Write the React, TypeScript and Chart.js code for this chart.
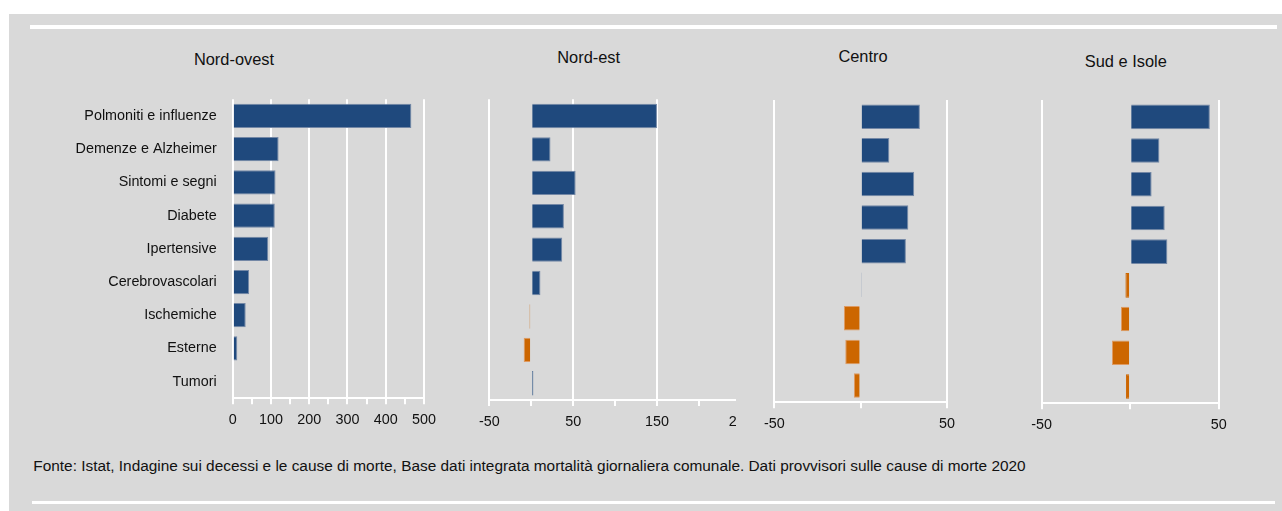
import React, { useEffect, useRef } from 'react';
import { Chart, registerables } from 'chart.js';

Chart.register(...registerables);

// ---------- data ----------
const categories = [
  'Polmoniti e influenze',
  'Demenze e Alzheimer',
  'Sintomi e segni',
  'Diabete',
  'Ipertensive',
  'Cerebrovascolari',
  'Ischemiche',
  'Esterne',
  'Tumori',
];
const nordOvest = [467, 120, 112, 110, 93, 43, 34, 12, 0];
const nordEst = [150, 23, 53, 39, 37, 11, -2, -9, 2.5];
const centro = [34.3, 16.6, 31, 27.6, 26.2, 0.4, -9.7, -8.9, -3.9];
const sudIsole = [45, 16.5, 12.1, 19.5, 21, -2.7, -5.2, -10.3, -2.4];
const panelTitles = ['Nord-ovest', 'Nord-est', 'Centro', 'Sud e Isole'];
const axisMin = [0, -50, -50, -50];
const axisMax = [500, 250, 50, 50];
const footnote =
  'Fonte: Istat, Indagine sui decessi e le cause di morte, Base dati integrata mortalità giornaliera comunale. Dati provvisori sulle cause di morte 2020';

// ---------- styles ----------
const BLUE = '#1F497D';
const BLUE_EDGE = '#7488A6';
const ORANGE = '#CC6600';
const ORANGE_EDGE = '#DE9A62';
const BG = '#D9D9D9';
const TEXT = '#111111';

function hasNarrow(): boolean {
  try {
    const c = document.createElement('canvas').getContext('2d')!;
    c.font = '100px monospace';
    const w0 = c.measureText('Polmoniti e influenze').width;
    c.font = '100px "Liberation Sans Narrow", monospace';
    const w1 = c.measureText('Polmoniti e influenze').width;
    return Math.abs(w1 - w0) > 0.5;
  } catch (e) {
    return false;
  }
}

const NARROW = hasNarrow();
const FAMILY = NARROW ? '"Liberation Sans Narrow", "Liberation Sans", Arial, sans-serif' : '"Liberation Sans", Arial, sans-serif';
const K = NARROW ? 1 : 0.82;
const LABEL_SIZE = 17.5 * K;
const TITLE_SIZE = 20 * K;
const FOOT_SIZE = NARROW ? 18.8 : 15.4;

type Layout = {
  canvas: { left: number; top: number; w: number; h: number };
  area: { l: number; t: number; r: number; b: number };
  clipW?: number;
  showLabels: boolean;
  titleX: number;
  titleBase: number;
};

const layouts: Layout[] = [
  { canvas: { left: 20, top: 80, w: 440, h: 370 }, area: { l: 232.7, t: 99.3, r: 424, b: 398.3 }, showLabels: true, titleX: 234, titleBase: 65 },
  { canvas: { left: 460, top: 80, w: 300, h: 370 }, area: { l: 489.3, t: 99.3, r: 740.8, b: 400 }, clipW: 276, showLabels: false, titleX: 588.7, titleBase: 63.3 },
  { canvas: { left: 745, top: 80, w: 230, h: 370 }, area: { l: 774.3, t: 100, r: 947, b: 402.3 }, showLabels: false, titleX: 863, titleBase: 61.7 },
  { canvas: { left: 1010, top: 80, w: 240, h: 370 }, area: { l: 1041.7, t: 100, r: 1218.7, b: 403.3 }, showLabels: false, titleX: 1125.8, titleBase: 66.7 },
];

const seriesList = [nordOvest, nordEst, centro, sudIsole];

function Panel({ idx }: { idx: number }) {
  const ref = useRef<HTMLCanvasElement | null>(null);
  const L = layouts[idx];
  const values = seriesList[idx];
  const min = axisMin[idx];
  const max = axisMax[idx];

  useEffect(() => {
    if (!ref.current) return;
    const isMajor = (v: number) => Math.abs(Math.round(v - min)) % 100 === 0;
    const fill = (v: number) => (v < 0 ? ORANGE : BLUE);
    const chart = new Chart(ref.current, {
      type: 'bar',
      data: {
        labels: categories,
        datasets: [
          {
            data: values,
            backgroundColor: values.map(fill),
            borderColor: values.map((v) => (Math.abs(v) < 3 ? fill(v) : v < 0 ? ORANGE_EDGE : BLUE_EDGE)),
            borderWidth: 1,
            barPercentage: 0.73,
            categoryPercentage: 1,
          },
        ],
      },
      options: {
        indexAxis: 'y',
        responsive: false,
        animation: false,
        devicePixelRatio: 1,
        layout: {
          padding: {
            left: L.showLabels ? 0 : L.area.l - L.canvas.left,
            top: L.area.t - L.canvas.top,
            right: L.canvas.left + L.canvas.w - L.area.r,
            bottom: 0,
          },
        },
        plugins: {
          legend: { display: false },
          tooltip: { enabled: false },
          title: { display: false },
        },
        scales: {
          x: {
            type: 'linear',
            position: 'bottom',
            min,
            max,
            ticks: {
              stepSize: 50,
              autoSkip: false,
              maxRotation: 0,
              minRotation: 0,
              padding: 7,
              color: TEXT,
              font: { family: FAMILY, size: LABEL_SIZE },
              callback: (v: any) => (isMajor(Number(v)) ? String(v) : ''),
            },
            grid: {
              color: (ctx: any) => (ctx.tick && isMajor(ctx.tick.value) ? '#FFFFFF' : 'rgba(255,255,255,0)'),
              lineWidth: 2,
              tickColor: '#FFFFFF',
              tickWidth: 2,
              tickLength: 6,
              drawOnChartArea: true,
              drawTicks: true,
            },
            border: { display: true, color: '#FFFFFF', width: 2 },
            afterFit: (s: any) => {
              s.height = L.canvas.top + L.canvas.h - L.area.b;
              s.paddingLeft = 0;
              s.paddingRight = 0;
            },
          },
          y: {
            type: 'category',
            display: L.showLabels,
            grid: { display: false, drawTicks: false, tickLength: 0 },
            border: { display: false },
            ticks: {
              padding: 16,
              color: TEXT,
              autoSkip: false,
              font: { family: FAMILY, size: LABEL_SIZE },
            },
            afterFit: (s: any) => {
              s.width = L.showLabels ? L.area.l - L.canvas.left : 0;
              s.paddingTop = 0;
              s.paddingBottom = 0;
            },
          },
        },
      } as any,
    });
    return () => chart.destroy();
  }, []);

  return (
    <div
      style={{
        position: 'absolute',
        left: L.canvas.left,
        top: L.canvas.top,
        width: L.clipW ?? L.canvas.w,
        height: L.canvas.h,
        overflow: 'hidden',
      }}
    >
      <canvas ref={ref} width={L.canvas.w} height={L.canvas.h} style={{ display: 'block', width: L.canvas.w, height: L.canvas.h }} />
    </div>
  );
}

export default function App() {
  return (
    <div style={{ position: 'absolute', left: 0, top: 0, width: 1282, height: 511, background: '#FFFFFF', overflow: 'hidden' }}>
      <div style={{ position: 'absolute', left: 9, top: 14, width: 1273, height: 497, background: BG }} />
      <div style={{ position: 'absolute', left: 30, top: 25, width: 1247, height: 4, background: '#FFFFFF' }} />
      <div style={{ position: 'absolute', left: 32, top: 501, width: 1243, height: 3, background: '#FFFFFF' }} />
      {layouts.map((L, i) => (
        <div
          key={'t' + i}
          style={{
            position: 'absolute',
            left: L.titleX - 100,
            width: 200,
            top: L.titleBase - 0.8465 * TITLE_SIZE,
            textAlign: 'center',
            fontFamily: FAMILY,
            fontSize: TITLE_SIZE,
            lineHeight: 1,
            color: TEXT,
            whiteSpace: 'nowrap',
          }}
        >
          {panelTitles[i]}
        </div>
      ))}
      {layouts.map((L, i) => (
        <Panel key={'p' + i} idx={i} />
      ))}
      <div
        style={{
          position: 'absolute',
          left: 33.3,
          top: 471 - 0.8465 * FOOT_SIZE,
          fontFamily: FAMILY,
          fontSize: FOOT_SIZE,
          lineHeight: 1,
          color: TEXT,
          whiteSpace: 'nowrap',
        }}
      >
        {footnote}
      </div>
    </div>
  );
}
